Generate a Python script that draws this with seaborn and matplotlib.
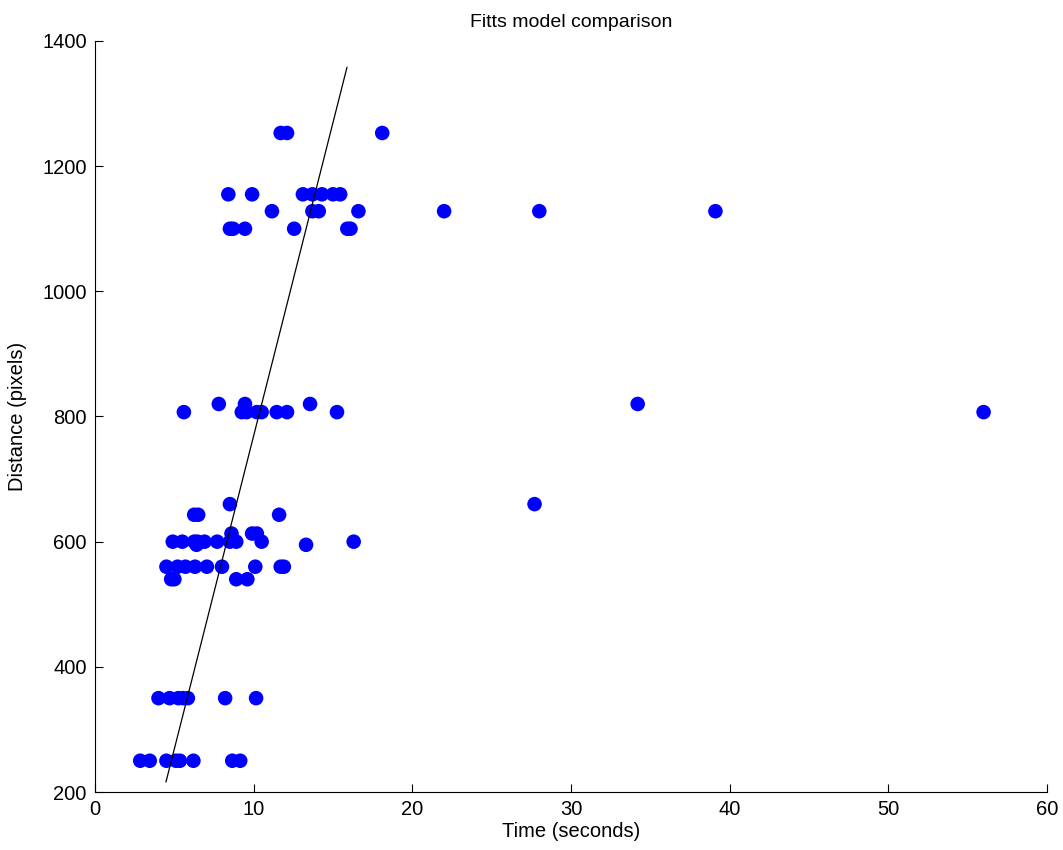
import numpy as np
import pandas as pd
import seaborn as sns
import matplotlib.pyplot as plt

# observed trials: time (s) and target distance (px)
times = [
    2.85, 3.45, 4.5, 5.1, 5.35, 6.2, 8.65, 9.15,
    4.0, 4.7, 5.25, 5.55, 5.85, 8.2, 10.15,
    4.8, 5.0, 8.9, 9.6,
    4.5, 5.2, 5.7, 6.3, 7.05, 8.0, 10.1, 11.7, 11.9,
    6.4, 13.3,
    4.9, 5.5, 6.25, 6.45, 6.9, 7.7, 8.5, 8.9, 10.5, 16.3,
    8.6, 9.9, 10.2,
    6.25, 6.5, 11.6,
    8.5, 27.7,
    5.6, 9.25, 9.55, 10.2, 10.5, 11.45, 12.1, 15.25, 56.0,
    7.8, 9.45, 13.55, 34.2,
    8.5, 8.7, 9.45, 12.55, 15.9, 16.1,
    11.15, 13.7, 14.1, 16.6, 22.0, 28.0, 39.1,
    8.4, 9.9, 13.1, 13.7, 14.3, 15.0, 15.45,
    11.7, 12.1, 18.1,
]
distances = (
    [250] * 8 + [350] * 7 + [540] * 4 + [560] * 9 + [595] * 2 + [600] * 10
    + [613] * 3 + [643] * 3 + [660] * 2 + [807] * 9 + [820] * 4
    + [1100] * 6 + [1128] * 7 + [1155] * 7 + [1253] * 3
)

# Fitts model prediction line
fit_time = [4.47, 15.88]
fit_dist = [216, 1358]

df = pd.DataFrame({'Time': times, 'Distance': distances})

sns.set_style('ticks')
plt.rcParams['font.family'] = ['Liberation Sans', 'DejaVu Sans']
plt.rcParams['xtick.direction'] = 'in'
plt.rcParams['ytick.direction'] = 'in'
plt.rcParams['text.color'] = 'black'
plt.rcParams['axes.labelcolor'] = 'black'
plt.rcParams['xtick.color'] = 'black'
plt.rcParams['ytick.color'] = 'black'
plt.rcParams['axes.edgecolor'] = 'black'

fig = plt.figure(figsize=(10.63, 8.5), dpi=100)
ax = fig.add_axes([0.0894, 0.0682, 0.8956, 0.8836])

sns.scatterplot(data=df, x='Time', y='Distance', ax=ax, color='#0000ff',
                s=110, edgecolor='none', zorder=2)
ax.plot(fit_time, fit_dist, color='black', linewidth=0.9, zorder=3)

ax.set_xlim(0, 60)
ax.set_ylim(200, 1400)
ax.set_xticks(np.arange(0, 61, 10))
ax.set_yticks(np.arange(200, 1401, 200))
ax.tick_params(labelsize=14.5, length=6, width=0.8, pad=6)
ax.set_xlabel('Time (seconds)', fontsize=14.5)
ax.set_ylabel('Distance (pixels)', fontsize=14.5)
ax.xaxis.set_label_coords(0.5, -0.04)
ax.yaxis.set_label_coords(-0.0714, 0.5)
ax.set_title('Fitts model comparison', fontsize=14, pad=10)
for side in ['left', 'bottom']:
    ax.spines[side].set_linewidth(0.8)
sns.despine(ax=ax)

fig.savefig('out.png', dpi=100)
